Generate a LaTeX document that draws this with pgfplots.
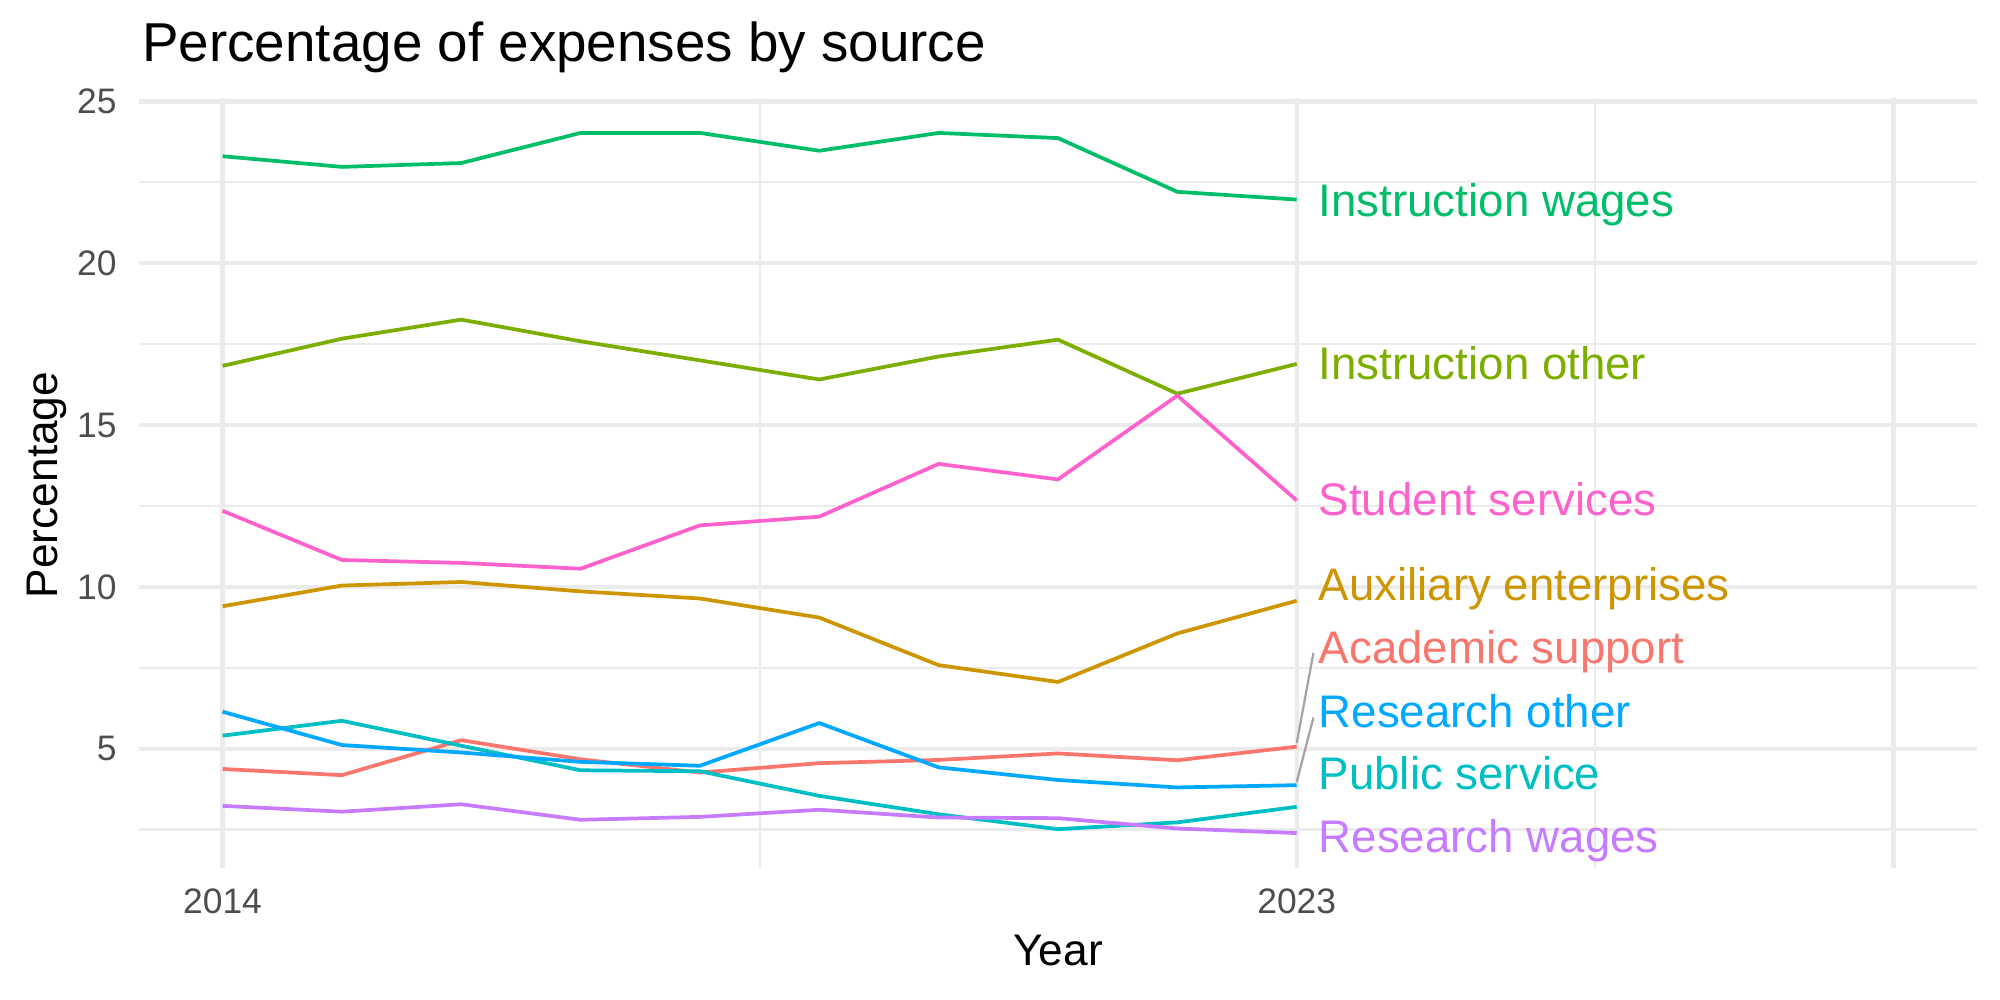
\documentclass[border=0pt]{standalone}
\usepackage{pgfplots}
\pgfplotsset{compat=1.18}
\usepackage{fontspec}
\setmainfont{Liberation Sans}

% series colours (default hue palette, 8 levels)
\definecolor{cAcad}{HTML}{F8766D}
\definecolor{cAux}{HTML}{CD9600}
\definecolor{cIO}{HTML}{7CAE00}
\definecolor{cIW}{HTML}{00BE67}
\definecolor{cPS}{HTML}{00BFC4}
\definecolor{cRO}{HTML}{00A9FF}
\definecolor{cRW}{HTML}{C77CFF}
\definecolor{cSS}{HTML}{FF61CC}
\definecolor{gridc}{HTML}{EBEBEB}
\definecolor{tickc}{HTML}{4D4D4D}
\definecolor{segc}{HTML}{A3A3A3}

\newcommand{\labfont}{\fontsize{16.5}{19}\selectfont}

\begin{document}
\begin{tikzpicture}
\path[use as bounding box] (0,0) rectangle (722.7pt,361.35pt);

\begin{axis}[
  at={(50.23pt,47.70pt)}, anchor=south west,
  scale only axis, width=664.16pt, height=278.24pt,
  xmin=2013.3, xmax=2028.7, ymin=1.31, ymax=25.11,
  axis line style={draw=none},
  major tick length=0pt, minor tick length=0pt,
  xtick={2014,2023,2028}, xticklabels={2014,2023,{}},
  minor xtick={2018.5,2025.5},
  ytick={5,10,15,20,25}, minor ytick={2.5,7.5,12.5,17.5,22.5},
  grid=both,
  major grid style={line width=1.5pt, color=gridc},
  minor grid style={line width=0.75pt, color=gridc},
  tick label style={font=\fontsize{12.8}{15}\selectfont, text=tickc},
  /pgf/number format/assume math mode=true,
  yticklabel style={anchor=east, inner sep=0pt, xshift=-7.9pt},
  xticklabel style={anchor=north, inner sep=0pt, yshift=-7.2pt},
  clip=false,
  every axis plot/.append style={line width=1.35pt, line join=round, no markers},
]

% Academic support
\addplot[color=cAcad] coordinates {(2014,4.37) (2015,4.18) (2016,5.26) (2017,4.67) (2018,4.26) (2019,4.55) (2020,4.65) (2021,4.85) (2022,4.64) (2023,5.06)};
% Auxiliary enterprises
\addplot[color=cAux] coordinates {(2014,9.40) (2015,10.04) (2016,10.15) (2017,9.86) (2018,9.64) (2019,9.05) (2020,7.58) (2021,7.06) (2022,8.56) (2023,9.57)};
% Instruction other
\addplot[color=cIO] coordinates {(2014,16.83) (2015,17.67) (2016,18.26) (2017,17.59) (2018,17.00) (2019,16.41) (2020,17.12) (2021,17.64) (2022,15.97) (2023,16.89)};
% Instruction wages
\addplot[color=cIW] coordinates {(2014,23.31) (2015,22.98) (2016,23.10) (2017,24.03) (2018,24.03) (2019,23.48) (2020,24.03) (2021,23.87) (2022,22.21) (2023,21.97)};
% Public service
\addplot[color=cPS] coordinates {(2014,5.40) (2015,5.86) (2016,5.09) (2017,4.33) (2018,4.30) (2019,3.54) (2020,2.97) (2021,2.51) (2022,2.72) (2023,3.20)};
% Research other
\addplot[color=cRO] coordinates {(2014,6.14) (2015,5.11) (2016,4.88) (2017,4.59) (2018,4.47) (2019,5.79) (2020,4.42) (2021,4.03) (2022,3.80) (2023,3.87)};
% Research wages
\addplot[color=cRW] coordinates {(2014,3.23) (2015,3.05) (2016,3.28) (2017,2.80) (2018,2.89) (2019,3.11) (2020,2.87) (2021,2.85) (2022,2.53) (2023,2.39)};
% Student services
\addplot[color=cSS] coordinates {(2014,12.35) (2015,10.83) (2016,10.74) (2017,10.56) (2018,11.90) (2019,12.17) (2020,13.80) (2021,13.32) (2022,15.91) (2023,12.67)};

% leader segments for displaced labels
\addplot[color=segc, line width=0.8pt] coordinates {(2023.0,5.17) (2023.14,7.96)};
\addplot[color=segc, line width=0.8pt] coordinates {(2023.0,3.97) (2023.14,5.96)};

% end-of-line labels
\node[anchor=base west, inner sep=0pt, text=cIW, font=\labfont] at (axis cs:2023.18,21.45) {Instruction wages};
\node[anchor=base west, inner sep=0pt, text=cIO, font=\labfont] at (axis cs:2023.18,16.40) {Instruction other};
\node[anchor=base west, inner sep=0pt, text=cSS, font=\labfont] at (axis cs:2023.18,12.21) {Student services};
\node[anchor=base west, inner sep=0pt, text=cAux, font=\labfont] at (axis cs:2023.18,9.58) {Auxiliary enterprises};
\node[anchor=base west, inner sep=0pt, text=cAcad, font=\labfont] at (axis cs:2023.18,7.62) {Academic support};
\node[anchor=base west, inner sep=0pt, text=cRO, font=\labfont] at (axis cs:2023.18,5.66) {Research other};
\node[anchor=base west, inner sep=0pt, text=cPS, font=\labfont] at (axis cs:2023.18,3.73) {Public service};
\node[anchor=base west, inner sep=0pt, text=cRW, font=\labfont] at (axis cs:2023.18,1.80) {Research wages};
\end{axis}

% titles
\node[anchor=base west, inner sep=0pt, font=\fontsize{19.8}{24}\selectfont] at (51.2pt,338.95pt) {Percentage of expenses by source};
\node[anchor=base, inner sep=0pt, font=\fontsize{16}{19}\selectfont] at (382.3pt,12.3pt) {Year};
\node[anchor=base, inner sep=0pt, rotate=90, font=\fontsize{16}{19}\selectfont] at (20.74pt,186.1pt) {Percentage};
\end{tikzpicture}
\end{document}
